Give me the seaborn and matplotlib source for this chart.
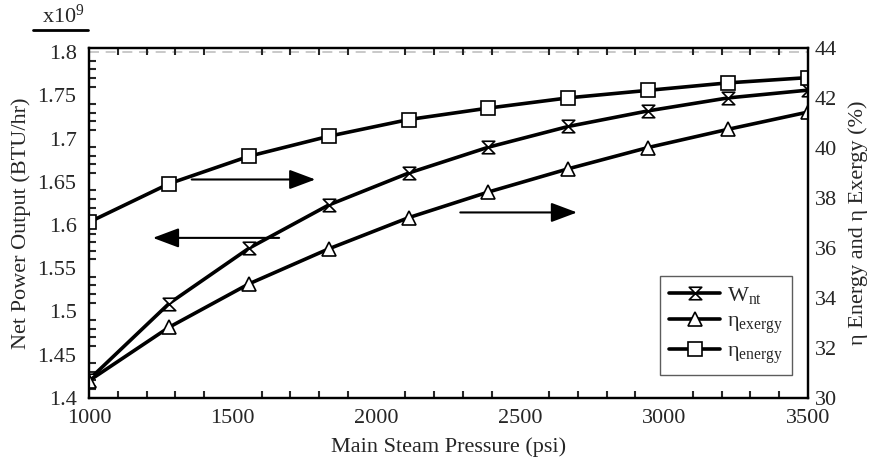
import numpy as np
import pandas as pd
import seaborn as sns
import matplotlib.pyplot as plt
from matplotlib.path import Path
from matplotlib.lines import Line2D
from matplotlib.ticker import MultipleLocator

# dados
pressao = [1000, 1278, 1556, 1833, 2111, 2389, 2667, 2944, 3222, 3500]
potencia = [1.421, 1.509, 1.573, 1.623, 1.660, 1.690, 1.714, 1.732, 1.747, 1.756]  # x10^9 BTU/hr
eta_exergia = [30.68, 32.82, 34.56, 35.96, 37.21, 38.24, 39.17, 40.02, 40.75, 41.44]
eta_energia = [37.03, 38.57, 39.67, 40.47, 41.14, 41.60, 42.01, 42.31, 42.61, 42.82]

dados = pd.DataFrame({"Pressao": pressao, "Potencia": potencia,
                      "Exergia": eta_exergia, "Energia": eta_energia})

sns.set_style("ticks")
plt.rcParams['font.family'] = ['Liberation Serif', 'DejaVu Serif']
plt.rcParams['mathtext.fontset'] = 'custom'
plt.rcParams['mathtext.rm'] = 'Liberation Serif'
plt.rcParams['mathtext.it'] = 'Liberation Serif:italic'

# marcador tipo ampulheta
ampulheta = Path([(-1, 1), (1, 1), (-1, -1), (1, -1), (-1, 1)],
                 [Path.MOVETO, Path.LINETO, Path.LINETO, Path.LINETO, Path.CLOSEPOLY])

fig = plt.figure(figsize=(8.73, 4.63), dpi=100)
ax = fig.add_axes([0.102, 0.141, 0.8235, 0.755])
ax2 = ax.twinx()

estilo = dict(color='black', linewidth=2.6, markerfacecolor='white',
              markeredgecolor='black', markeredgewidth=1.2)

sns.lineplot(data=dados, x="Pressao", y="Potencia", ax=ax, marker=ampulheta,
             markersize=9, label=r'W$_{\mathrm{nt}}$', legend=False, **estilo)
sns.lineplot(data=dados, x="Pressao", y="Exergia", ax=ax2, marker='^',
             markersize=10, label=r'η$_{\mathrm{exergy}}$', legend=False, **estilo)
sns.lineplot(data=dados, x="Pressao", y="Energia", ax=ax2, marker='s',
             markersize=10, label=r'η$_{\mathrm{energy}}$', legend=False, **estilo)

ax.axhline(1.8, color='#c0c0c0', linestyle=(0, (6, 4)), linewidth=1.2, zorder=0)

ax.set_xlim(1000, 3500)
ax.set_ylim(1.4, 1.8046)
ax2.set_ylim(30, 44)

ax.xaxis.set_major_locator(MultipleLocator(500))
ax.xaxis.set_minor_locator(MultipleLocator(100))
ax.yaxis.set_minor_locator(MultipleLocator(0.01))
ax.set_yticks(np.arange(1.4, 1.801, 0.05))
ax.set_yticklabels(['1.4', '1.45', '1.5', '1.55', '1.6', '1.65', '1.7', '1.75', '1.8'])
ax2.set_yticks(range(30, 45, 2))

ax.tick_params(axis='x', which='major', length=0, labelsize=16, pad=8)
ax.tick_params(axis='x', which='minor', direction='in', length=5, width=1.5, top=True, bottom=True)
ax.tick_params(axis='y', which='major', length=0, labelsize=16, pad=9)
ax.tick_params(axis='y', which='minor', direction='in', length=5, width=1.5, left=True, right=False)
ax2.tick_params(axis='y', which='both', length=0, labelsize=16, pad=5)

for a in (ax, ax2):
    for s in a.spines.values():
        s.set_linewidth(1.6)
        s.set_color('black')

ax.set_xlabel('Main Steam Pressure (psi)', fontsize=16, labelpad=7)
ax.set_ylabel('Net Power Output (BTU/hr)', fontsize=16, labelpad=5)
ax2.set_ylabel('η Energy and η Exergy (%)', fontsize=16, labelpad=8)

# setas indicando os eixos
seta = dict(arrowstyle='-|>,head_length=0.8,head_width=0.3', color='black',
            lw=1.5, mutation_scale=20, shrinkA=0, shrinkB=0)
ax2.annotate('', xy=(1787, 38.74), xytext=(1357, 38.74), arrowprops=seta)
ax.annotate('', xy=(1222, 1.585), xytext=(1661, 1.585), arrowprops=seta)
ax2.annotate('', xy=(2697, 37.42), xytext=(2291, 37.42), arrowprops=seta)

handles = ax.get_lines()[:1] + ax2.get_lines()[:2]
leg = ax2.legend(handles=handles, loc='lower right', bbox_to_anchor=(0.978, 0.066),
                 borderaxespad=0, fontsize=16, frameon=True, fancybox=False,
                 handlelength=2.3, borderpad=0.4, labelspacing=0.25, handletextpad=0.3)
leg.get_frame().set_edgecolor('#333333')
leg.get_frame().set_linewidth(1.0)

# multiplicador do eixo esquerdo
fig.text(0.048, 0.965, r'x10$^{9}$', fontsize=16, va='center')
fig.add_artist(Line2D([0.038, 0.101], [0.936, 0.936], color='black', linewidth=2))

plt.savefig('out.png', dpi=100)
